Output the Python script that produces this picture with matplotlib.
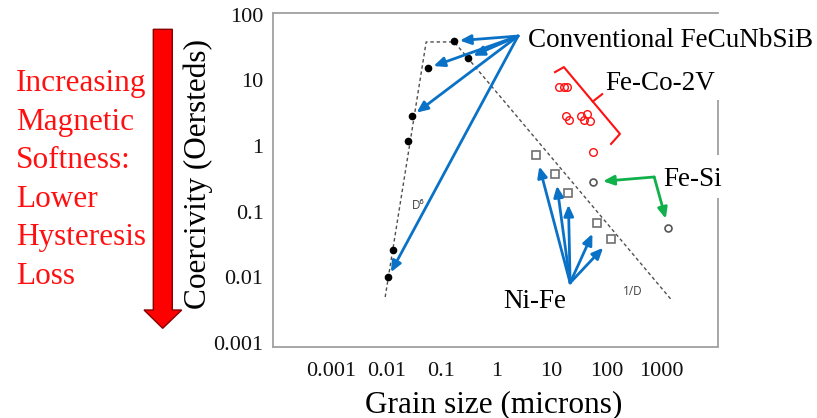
import matplotlib
matplotlib.use("Agg")
import matplotlib.pyplot as plt
from matplotlib.patches import Polygon

plt.rcParams['font.family'] = ['Liberation Serif', 'DejaVu Serif']

# Conventional / nanocrystalline FeCuNbSiB alloys
fecunbsib_size = [0.0109, 0.0134, 0.0251, 0.0296, 0.058, 0.172, 0.308]
fecunbsib_hc = [0.010, 0.026, 1.19, 2.87, 15.5, 39.9, 22.0]
fecunbsib_arrowed = [0, 3, 4, 5, 6]

# Fe-Co-2V
feco2v_size = [13.9, 17.1, 19.4, 18.6, 21.1, 34.9, 39.5, 44.8, 50.8, 57.6]
feco2v_hc = [7.94, 7.94, 7.94, 2.87, 2.49, 2.87, 2.49, 3.08, 2.41, 0.81]

# Fe-Si
fesi_size = [57.6, 1328]
fesi_hc = [0.282, 0.056]

# Ni-Fe
nife_size = [5.31, 11.8, 20.2, 68.1, 122]
nife_hc = [0.729, 0.374, 0.192, 0.067, 0.038]

# guide: D^6 rise, plateau, 1/D fall
guide_size = [0.00958, 0.0532, 0.172, 1570]
guide_hc = [0.00498, 38.6, 38.6, 0.00433]

x_ticks = [0.001, 0.01, 0.1, 1, 10, 100, 1000]
x_tick_labels = ["0.001", "0.01", "0.1", "1", "10", "100", "1000"]
y_ticks = [0.001, 0.01, 0.1, 1, 10, 100]
y_tick_labels = ["0.001", "0.01", "0.1", "1", "10", "100"]

side_lines = ["Increasing", "Magnetic", "Softness:", "Lower", "Hysteresis", "Loss"]

BLUE = '#0a72c6'
GREEN = '#10b04a'
RED = '#ff1010'
FRAME = '#a0a0a0'

W, H = 817, 418
fig = plt.figure(figsize=(W / 100, H / 100), dpi=100)
fig.patch.set_facecolor('white')


def fx(px):
    return px / W


def fy(py):
    return 1 - py / H


ax = fig.add_axes([fx(273.3), fy(347), 445 / W, 334 / H])
ax.set_xscale('log')
ax.set_yscale('log')
ax.set_xlim(10 ** -4.05, 10 ** 4.03)
ax.set_ylim(10 ** -3.065, 10 ** 2.028)
ax.set_xticks(x_ticks, x_tick_labels)
ax.set_yticks(y_ticks, y_tick_labels)
ax.minorticks_off()
ax.tick_params(axis='both', length=0, labelsize=16, colors='#111111')
ax.tick_params(axis='x', pad=11)
ax.tick_params(axis='y', pad=7)

for side in ('left', 'bottom', 'top'):
    ax.spines[side].set_color(FRAME)
    ax.spines[side].set_linewidth(1.3)
ax.spines['right'].set_visible(False)
# right border is broken where the labels sit
for y0, y1 in [(0.740, 0.575), (0.446, 0.0)]:
    ax.plot([1, 1], [y0, y1], color=FRAME, lw=1.3, transform=ax.transAxes,
            clip_on=False, solid_capstyle='butt')

# trend guide
ax.plot(guide_size, guide_hc, ls=(0, (2.5, 2)), color='#505050', lw=1)

# data points
ax.plot(fecunbsib_size, fecunbsib_hc, 'o', color='black', ms=4.5, ls='none')
ax.plot(feco2v_size, feco2v_hc, 'o', mfc='none', mec=RED, ms=5.5, mew=1,
        ls='none')
ax.plot(fesi_size, fesi_hc, 'o', mfc='none', mec='#555555', ms=5, mew=1.2,
        ls='none')
ax.plot(nife_size, nife_hc, 's', mfc='none', mec='#707070', ms=5.5, mew=1.2,
        ls='none')


def pointer(x, y, origin, color, shrink):
    ax.annotate('', xy=(x, y), xycoords='data', xytext=origin,
                textcoords='axes fraction',
                arrowprops=dict(arrowstyle='-|>,head_length=0.5,head_width=0.22',
                                color=color, lw=2, shrinkA=0, shrinkB=shrink,
                                mutation_scale=13))


conv_origin = (0.550, 0.931)
for i in fecunbsib_arrowed:
    pointer(fecunbsib_size[i], fecunbsib_hc[i], conv_origin, BLUE, 4)

nife_origin = (0.667, 0.192)
for xs, ys in zip(nife_size, nife_hc):
    pointer(xs, ys, nife_origin, BLUE, 8.5)

fesi_origin = (0.856, 0.509)
for xs, ys in zip(fesi_size, fesi_hc):
    pointer(xs, ys, fesi_origin, GREEN, 7)

# brace around the Fe-Co-2V group
ax.plot([0.633, 0.653, 0.779, 0.759], [0.823, 0.838, 0.638, 0.608],
        color=RED, lw=1.5, transform=ax.transAxes, clip_on=False)
ax.plot([0.718, 0.739], [0.735, 0.757], color=RED, lw=1.5,
        transform=ax.transAxes, clip_on=False)

# group labels
ax.text(0.572, 0.898, 'Conventional FeCuNbSiB', transform=ax.transAxes,
        fontsize=19.5, va='baseline', ha='left', clip_on=False)
ax.text(0.745, 0.769, 'Fe-Co-2V', transform=ax.transAxes,
        fontsize=19.5, va='baseline', ha='left')
ax.text(0.876, 0.482, 'Fe-Si', transform=ax.transAxes,
        fontsize=19.5, va='baseline', ha='left', clip_on=False)
ax.text(0.516, 0.117, 'Ni-Fe', transform=ax.transAxes,
        fontsize=19.5, va='baseline', ha='left')
ax.text(0.312, 0.425, 'D⁶', transform=ax.transAxes, fontsize=8.5,
        color='#404040', family=['Open Sans', 'DejaVu Sans'], va='center')
ax.text(0.786, 0.165, '1/D', transform=ax.transAxes, fontsize=8.5,
        color='#404040', family=['Open Sans', 'DejaVu Sans'], va='center')

# axis titles
fig.text(fx(198), fy(174), 'Coercivity (Oersteds)', rotation=90,
         fontsize=22.5, ha='center', va='center')
fig.text(fx(494), fy(412), 'Grain size (microns)', fontsize=22.5,
         ha='center', va='baseline')

# side note with the big downward arrow
for k, line in enumerate(side_lines):
    fig.text(fx(16), fy(91 + 38.6 * k), line, color=RED, fontsize=22.5,
             ha='left', va='baseline')

arrow_px = [(153.3, 29.3), (172.3, 29.3), (172.3, 310), (181.7, 310),
            (162.7, 328.3), (144, 310), (153.3, 310)]
fig.patches.append(Polygon([(fx(a), fy(b)) for a, b in arrow_px], closed=True,
                           facecolor='#ff0000', edgecolor='#8a0000', lw=1,
                           transform=fig.transFigure, figure=fig))

fig.savefig('out.png', dpi=100, facecolor='white')
